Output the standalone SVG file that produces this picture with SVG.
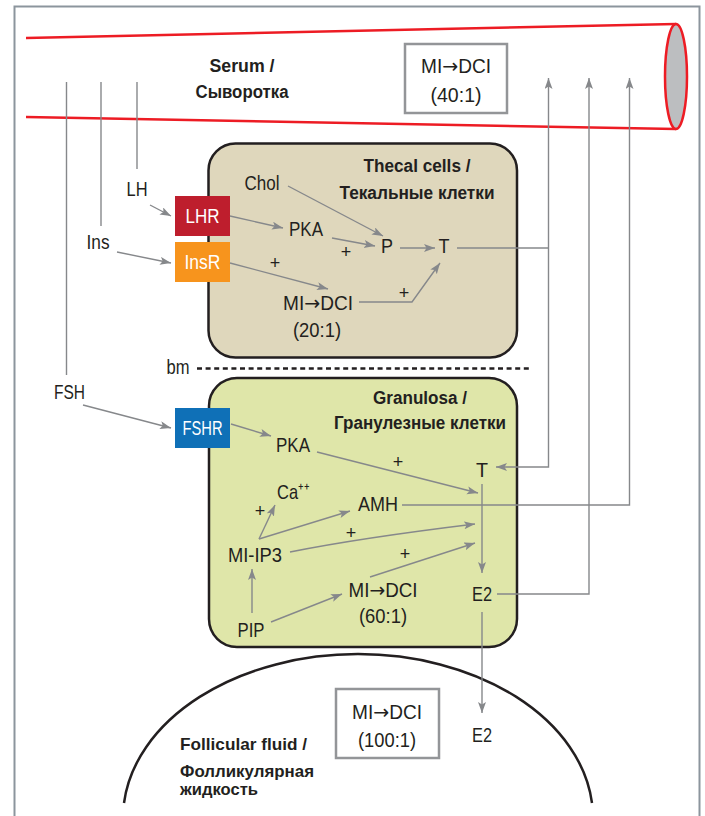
<svg xmlns="http://www.w3.org/2000/svg" width="705" height="816" viewBox="0 0 705 816">
<defs>
<marker id="ah" markerUnits="userSpaceOnUse" markerWidth="12" markerHeight="9" refX="11" refY="4" orient="auto">
<path d="M0,0 L11,4 L0,8 L2.5,4 Z" fill="#86888b"/>
</marker>
<style>
text{font-family:"Liberation Sans","Arial",sans-serif}
.lbl{font-size:20px;fill:#231f20;text-anchor:middle}
.ttl{font-size:18px;font-weight:bold;fill:#231f20;text-anchor:middle}
.ff{font-size:17px;font-weight:bold;fill:#231f20;text-anchor:start}
.rcp{font-size:20px;fill:#ffffff;text-anchor:middle}
.plus{font-size:18px;fill:#231f20;text-anchor:middle}
.ar{font-family:"DejaVu Sans",sans-serif}
.con{fill:none;stroke:#86888b;stroke-width:1.4}
.arr{fill:none;stroke:#86888b;stroke-width:1.4;marker-end:url(#ah)}
.cell{stroke:#231f20;stroke-width:2.5}
.gbox{fill:#ffffff;stroke:#939598;stroke-width:2.5}
</style>
</defs>
<rect x="0" y="0" width="705" height="816" fill="#ffffff"/>
<path d="M14.5,830 V6.5 H699.5 V830" fill="none" stroke="#8c959d" stroke-width="2"/>

<g id="serum">
<line x1="26" y1="38" x2="676" y2="24" stroke="#ed1c24" stroke-width="2.5"/>
<line x1="26" y1="117" x2="676" y2="129" stroke="#ed1c24" stroke-width="2.5"/>
<ellipse cx="676" cy="76.5" rx="11" ry="52.5" fill="#bcbec0" stroke="#ed1c24" stroke-width="2.5"/>
<text class="ttl" x="242" y="72" textLength="65" lengthAdjust="spacingAndGlyphs">Serum /</text>
<text class="ttl" x="242" y="98" textLength="93" lengthAdjust="spacingAndGlyphs">Сыворотка</text>
</g>
<g id="serum-ratio">
<rect class="gbox" x="405" y="44" width="102" height="69"/>
<text class="lbl" x="456" y="73" textLength="70" lengthAdjust="spacingAndGlyphs">MI<tspan class="ar">→</tspan>DCI</text>
<text class="lbl" x="456" y="102" textLength="51" lengthAdjust="spacingAndGlyphs">(40:1)</text>
</g>

<g id="follicular-fluid">
<path d="M124,803 A235,164 0 0 1 592,803" fill="none" stroke="#231f20" stroke-width="2.5"/>
<text class="ff" x="180" y="750" textLength="127" lengthAdjust="spacingAndGlyphs">Follicular fluid /</text>
<text class="ff" x="180" y="777" textLength="134" lengthAdjust="spacingAndGlyphs">Фолликулярная</text>
<text class="ff" x="180" y="795" textLength="78" lengthAdjust="spacingAndGlyphs">жидкость</text>
</g>
<g id="ff-ratio">
<rect class="gbox" x="336" y="689" width="103" height="69"/>
<text class="lbl" x="387" y="719" textLength="70" lengthAdjust="spacingAndGlyphs">MI<tspan class="ar">→</tspan>DCI</text>
<text class="lbl" x="387" y="747" textLength="58" lengthAdjust="spacingAndGlyphs">(100:1)</text>
</g>

<g id="thecal">
<rect class="cell" x="208.5" y="143.5" width="308.5" height="214" rx="27" fill="#dfd7bc"/>
<text class="ttl" x="417" y="172" textLength="107" lengthAdjust="spacingAndGlyphs">Thecal cells /</text>
<text class="ttl" x="417" y="199" textLength="155" lengthAdjust="spacingAndGlyphs">Текальные клетки</text>
</g>
<g id="granulosa">
<rect class="cell" x="209" y="378" width="308" height="269" rx="28" fill="#dfe6a9"/>
<text class="ttl" x="420" y="404" textLength="94" lengthAdjust="spacingAndGlyphs">Granulosa /</text>
<text class="ttl" x="420" y="429" textLength="172" lengthAdjust="spacingAndGlyphs">Гранулезные клетки</text>
</g>

<g id="bm">
<text class="lbl" x="178" y="374" textLength="23" lengthAdjust="spacingAndGlyphs">bm</text>
<line x1="197" y1="368.5" x2="529" y2="368.5" stroke="#231f20" stroke-width="2.5" stroke-dasharray="5,3.6"/>
</g>

<g id="LH"><text class="lbl" x="137" y="196" textLength="21" lengthAdjust="spacingAndGlyphs">LH</text></g>
<g id="Ins"><text class="lbl" x="98" y="249" textLength="23" lengthAdjust="spacingAndGlyphs">Ins</text></g>
<g id="FSH"><text class="lbl" x="69.5" y="399" style="font-size:21px" textLength="31" lengthAdjust="spacingAndGlyphs">FSH</text></g>

<g id="LHR"><rect x="175" y="196" width="55" height="40" fill="#be1e2d"/><text class="rcp" x="202.5" y="223" textLength="34" lengthAdjust="spacingAndGlyphs">LHR</text></g>
<g id="InsR"><rect x="175" y="242" width="55" height="40" fill="#f7941d"/><text class="rcp" x="202.5" y="269" textLength="36" lengthAdjust="spacingAndGlyphs">InsR</text></g>
<g id="FSHR"><rect x="175" y="408" width="55" height="40" fill="#0f70b7"/><text class="rcp" x="202.5" y="435" textLength="40" lengthAdjust="spacingAndGlyphs">FSHR</text></g>

<g id="Chol"><text class="lbl" x="262" y="190" textLength="35" lengthAdjust="spacingAndGlyphs">Chol</text></g>
<g id="PKA-thecal"><text class="lbl" x="306" y="236" textLength="34" lengthAdjust="spacingAndGlyphs">PKA</text></g>
<g id="P"><text class="lbl" x="387" y="253" textLength="12" lengthAdjust="spacingAndGlyphs">P</text></g>
<g id="T-thecal"><text class="lbl" x="444" y="253" textLength="11" lengthAdjust="spacingAndGlyphs">T</text></g>
<g id="MIDCI-thecal">
<text class="lbl" x="318" y="310" textLength="70" lengthAdjust="spacingAndGlyphs">MI<tspan class="ar">→</tspan>DCI</text>
<text class="lbl" x="317" y="337" textLength="48" lengthAdjust="spacingAndGlyphs">(20:1)</text>
</g>

<g id="PKA-gran"><text class="lbl" x="293" y="452" textLength="34" lengthAdjust="spacingAndGlyphs">PKA</text></g>
<g id="T-gran"><text class="lbl" x="482" y="477" textLength="12" lengthAdjust="spacingAndGlyphs">T</text></g>
<g id="Ca">
<text class="lbl" x="277" y="499" style="text-anchor:start;font-size:21px" textLength="32" lengthAdjust="spacingAndGlyphs">Ca⁺⁺</text>
</g>
<g id="AMH"><text class="lbl" x="378" y="511" textLength="40" lengthAdjust="spacingAndGlyphs">AMH</text></g>
<g id="MI-IP3"><text class="lbl" x="255" y="562" textLength="54" lengthAdjust="spacingAndGlyphs">MI-IP3</text></g>
<g id="MIDCI-gran">
<text class="lbl" x="383" y="597" textLength="69" lengthAdjust="spacingAndGlyphs">MI<tspan class="ar">→</tspan>DCI</text>
<text class="lbl" x="383" y="623" textLength="48" lengthAdjust="spacingAndGlyphs">(60:1)</text>
</g>
<g id="PIP"><text class="lbl" x="251" y="637" textLength="27" lengthAdjust="spacingAndGlyphs">PIP</text></g>
<g id="E2-gran"><text class="lbl" x="482" y="601" style="font-size:21px" textLength="20" lengthAdjust="spacingAndGlyphs">E2</text></g>
<g id="E2-ff"><text class="lbl" x="482" y="742" style="font-size:21px" textLength="20" lengthAdjust="spacingAndGlyphs">E2</text></g>

<g id="connectors">
<line class="con" x1="66.5" y1="82" x2="66.5" y2="375"/>
<line class="con" x1="101" y1="82" x2="101" y2="226"/>
<line class="con" x1="137" y1="82" x2="137" y2="169"/>
<line class="arr" x1="150" y1="205" x2="171" y2="216"/>
<line class="arr" x1="117" y1="252" x2="171" y2="263"/>
<line class="arr" x1="83" y1="405" x2="171" y2="428"/>
<line class="arr" x1="230" y1="216" x2="283" y2="228"/>
<line class="arr" x1="288" y1="186" x2="383" y2="236"/>
<line class="arr" x1="332" y1="238" x2="375" y2="246"/>
<line class="arr" x1="400" y1="248" x2="435" y2="248"/>
<line class="arr" x1="230" y1="263" x2="328" y2="289"/>
<polyline class="arr" points="359,302 412,302 440,263"/>
<polyline class="con" points="457,248 548.5,248"/>
<line class="arr" x1="548.5" y1="248" x2="548.5" y2="78"/>
<polyline class="arr" points="548.5,248 548.5,467 496,467"/>
<line class="arr" x1="231" y1="424" x2="271" y2="436"/>
<line class="arr" x1="317" y1="452" x2="478" y2="493"/>
<line class="arr" x1="259" y1="539" x2="275" y2="505"/>
<line class="arr" x1="259" y1="539" x2="350" y2="511"/>
<polyline class="arr" points="402,505 629.5,505 629.5,78"/>
<path class="arr" d="M290,552 Q360,538 475,524"/>
<line class="arr" x1="370" y1="577" x2="475" y2="543"/>
<line class="arr" x1="252" y1="613" x2="252" y2="569"/>
<line class="arr" x1="271" y1="622" x2="342" y2="594"/>
<line class="arr" x1="482" y1="484" x2="482" y2="573"/>
<polyline class="arr" points="497,594 589,594 589,78"/>
<line class="arr" x1="482" y1="612" x2="482" y2="713"/>
<text class="plus" x="346" y="258">+</text>
<text class="plus" x="275" y="269">+</text>
<text class="plus" x="404" y="299">+</text>
<text class="plus" x="398" y="468">+</text>
<text class="plus" x="260" y="517">+</text>
<text class="plus" x="351" y="539">+</text>
<text class="plus" x="405" y="560">+</text>
</g>
</svg>
